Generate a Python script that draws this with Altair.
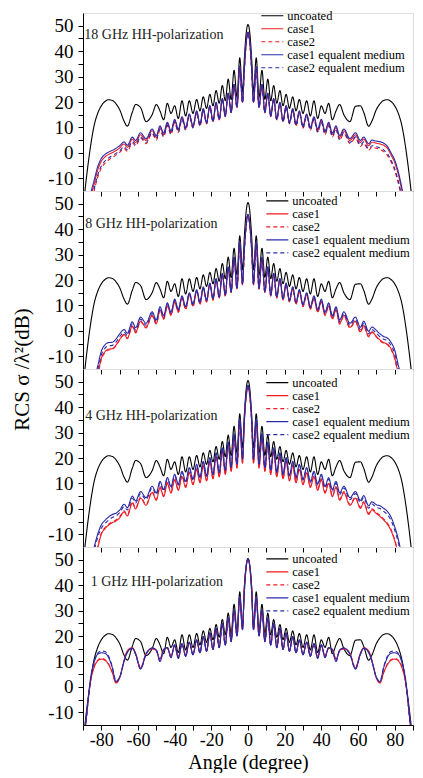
import altair as alt
import pandas as pd

# ---------------- data ----------------
ANGLE = [-90, -88, -86, -84, -82, -80, -78, -76, -74, -72, -70, -67.6, -65.8, -63.1, -61.3, -58.6,
         -55.6, -52.3, -50, -48, -46, -44, -42, -40, -38, -36, -34, -32, -30, -28, -26.2, -24.4,
         -22.6, -20.8, -19.1, -17.4, -15.7, -14.0, -12.4, -10.8, -9.2, -7.6, -6.0, -4.5, -3.0, -2.0, -1.0, 0,
         1.0, 2.0, 3.0, 4.5, 6.0, 7.6, 9.2, 10.8, 12.4, 14.0, 15.7, 17.4, 19.1, 20.8, 22.6, 24.4,
         26.2, 28, 30, 32, 34, 36, 38, 40, 42, 44, 46, 48, 50, 52.3, 55.6, 58.6,
         61.3, 63.1, 65.8, 67.6, 70, 72, 74, 76, 78, 80, 82, 84, 86, 88, 90]

UNCOATED = [-22, -9, 2, 10.5, 15.5, 18.5, 20.2, 20.9, 20.6, 19.3, 17.0, 12.5, 10.5, 16.0, 19.0, 17.8,
            12.3, 15.0, 19.0, 16.5, 13.0, 19.5, 15.5, 18.5, 13.5, 20.5, 14.5, 20.5, 15.5, 21.0, 16.5, 22.0,
            17.5, 23.0, 18.5, 24.5, 19.5, 26.5, 20.5, 29.0, 21.0, 32.5, 22.0, 37.4, 24.0, 37.0, 47.0, 50.5,
            47.0, 37.0, 24.0, 37.4, 22.0, 32.5, 21.0, 29.0, 20.5, 26.5, 19.5, 24.5, 18.5, 23.0, 17.5, 22.0,
            16.5, 21.0, 15.5, 20.5, 14.5, 20.5, 13.5, 18.5, 15.5, 19.5, 13.0, 16.5, 19.0, 15.0, 12.3, 18.3,
            18.5, 16.0, 10.5, 12.5, 17.0, 19.3, 20.6, 20.9, 20.2, 18.5, 15.5, 10.5, 2, -9, -22]

# 18 GHz
P18_CASE1 = [-34, -26, -18, -12.5, -6.8, -3.3, -1.6, -0.6, 0.1, 0.9, 1.9, 3.5, 2.2, 5.4, 4.1, 7.1,
             4.9, 8.7, 6.1, 10.0, 7.2, 11.5, 8.1, 12.7, 8.8, 13.8, 9.6, 14.9, 10.2, 16.2, 11.0, 17.1,
             11.7, 18.4, 12.4, 19.7, 13.1, 21.3, 14.4, 23.4, 15.9, 26.9, 17.9, 33.9, 19.9, 32.9, 43.3, 47.3,
             43.3, 32.9, 19.9, 33.9, 17.9, 26.9, 15.9, 23.4, 14.4, 21.3, 13.1, 19.7, 12.4, 18.4, 11.7, 17.1,
             11.0, 16.2, 10.2, 14.9, 9.6, 13.8, 8.8, 12.7, 8.1, 11.5, 7.2, 10.0, 6.1, 8.7, 4.9, 7.1,
             4.1, 5.4, 2.8, 4.2, 3.8, 3.5, 3.0, 1.8, -0.8, -3.8, -8.5, -15.0, -22, -29, -36]
P18_CASE2 = [-37, -29, -21, -15.2, -9.6, -6.0, -4.0, -2.8, -1.8, -0.9, 0.2, 1.8, 0.6, 3.9, 2.7, 5.8,
             3.6, 7.6, 5.0, 8.9, 6.2, 10.6, 7.2, 11.9, 8.0, 13.1, 8.9, 14.4, 9.7, 15.7, 10.5, 16.8,
             11.4, 18.1, 12.1, 19.4, 12.9, 21.0, 14.2, 23.2, 15.7, 26.7, 17.7, 33.7, 19.7, 32.7, 43.0, 47.0,
             43.0, 32.7, 19.7, 33.7, 17.7, 26.7, 15.7, 23.2, 14.2, 21.0, 12.9, 19.4, 12.1, 18.1, 11.4, 16.8,
             10.5, 15.7, 9.7, 14.4, 8.9, 13.1, 8.0, 11.9, 7.2, 10.6, 6.2, 8.9, 5.0, 7.6, 3.6, 5.8,
             2.5, 3.7, 1.0, 2.2, 1.8, 1.3, 0.5, -1.0, -3.5, -7.0, -12.0, -18.5, -25, -32, -39]
P18_EQ1 = [-32, -24, -16.5, -11.0, -5.5, -2.2, -0.6, 0.3, 1.0, 1.8, 2.8, 4.3, 3.0, 6.2, 4.9, 7.9,
           5.6, 9.4, 6.8, 10.6, 7.8, 12.0, 8.6, 13.2, 9.3, 14.2, 10.0, 15.3, 10.6, 16.5, 11.3, 17.4,
           12.0, 18.6, 12.6, 19.9, 13.3, 21.4, 14.5, 23.5, 16.0, 27.0, 18.0, 34.0, 20.0, 33.0, 43.5, 47.5,
           43.5, 33.0, 20.0, 34.0, 18.0, 27.0, 16.0, 23.5, 14.5, 21.4, 13.3, 19.9, 12.6, 18.6, 12.0, 17.4,
           11.3, 16.5, 10.6, 15.3, 10.0, 14.2, 9.3, 13.2, 8.6, 12.0, 7.8, 10.6, 6.8, 9.4, 5.6, 7.9,
           4.9, 6.2, 3.6, 5.0, 4.6, 4.4, 3.8, 2.6, 0.0, -2.8, -7.5, -14.0, -21, -28, -35]
P18_EQ2 = [-36, -28, -20, -14.5, -8.8, -5.2, -3.2, -2.0, -1.0, -0.2, 0.8, 2.4, 1.2, 4.5, 3.2, 6.3,
           4.1, 8.0, 5.4, 9.3, 6.6, 10.9, 7.5, 12.2, 8.3, 13.3, 9.1, 14.6, 9.9, 15.9, 10.7, 16.9,
           11.5, 18.2, 12.2, 19.5, 13.0, 21.1, 14.3, 23.3, 15.8, 26.8, 17.8, 33.8, 19.8, 32.8, 43.2, 47.2,
           43.2, 32.8, 19.8, 33.8, 17.8, 26.8, 15.8, 23.3, 14.3, 21.1, 13.0, 19.5, 12.2, 18.2, 11.5, 16.9,
           10.7, 15.9, 9.9, 14.6, 9.1, 13.3, 8.3, 12.2, 7.5, 10.9, 6.6, 9.3, 5.4, 8.0, 4.1, 6.3,
           3.0, 4.3, 1.6, 2.8, 2.4, 2.0, 1.2, -0.3, -2.8, -6.2, -11.2, -17.5, -24, -31, -38]

# 8 GHz
P8_CASE1 = [-44, -36, -29, -23, -17.5, -10.8, -8.2, -7.2, -7.0, -5.6, -3.4, -1.4, -2.8, 1.9, -0.5, 3.8,
            1.4, 6.1, 2.9, 8.3, 4.8, 9.9, 6.3, 11.5, 7.5, 12.9, 8.7, 14.3, 9.8, 15.6, 10.7, 16.8,
            11.5, 18.3, 12.2, 20.2, 13.0, 22.3, 13.8, 24.9, 15.1, 28.8, 16.5, 34.8, 18.2, 31.8, 41.3, 45.6,
            41.3, 31.8, 18.2, 34.8, 16.5, 28.8, 15.1, 24.9, 13.8, 22.3, 13.0, 20.2, 12.2, 18.3, 11.5, 16.8,
            10.7, 15.6, 9.8, 14.3, 8.7, 12.9, 7.5, 11.5, 6.3, 9.9, 4.8, 8.3, 2.9, 6.1, 1.4, 3.8,
            -0.3, 2.1, -2.1, -0.4, -2.2, -3.6, -4.6, -5.2, -7.0, -10.5, -17.0, -23, -29, -36, -44]
P8_CASE2 = [-45, -37, -30, -24, -18.0, -11.2, -8.6, -7.5, -7.3, -5.9, -3.6, -1.6, -3.1, 1.7, -0.8, 3.6,
            1.1, 5.9, 2.6, 8.1, 4.5, 9.7, 6.0, 11.3, 7.2, 12.7, 8.4, 14.1, 9.5, 15.5, 10.4, 16.7,
            11.3, 18.2, 12.0, 20.1, 12.8, 22.2, 13.6, 24.8, 15.0, 28.7, 16.4, 34.7, 18.1, 31.7, 41.2, 45.5,
            41.2, 31.7, 18.1, 34.7, 16.4, 28.7, 15.0, 24.8, 13.6, 22.2, 12.8, 20.1, 12.0, 18.2, 11.3, 16.7,
            10.4, 15.5, 9.5, 14.1, 8.4, 12.7, 7.2, 11.3, 6.0, 9.7, 4.5, 8.1, 2.6, 5.9, 1.1, 3.6,
            -0.6, 1.9, -2.4, -0.6, -2.4, -3.9, -4.9, -5.5, -7.3, -11.0, -17.5, -24, -30, -37, -45]
P8_EQ1 = [-40, -32, -25, -19.5, -14.0, -8.0, -5.5, -4.6, -4.5, -3.2, -1.2, 0.5, -0.9, 3.6, 1.2, 5.4,
          3.0, 7.5, 4.3, 9.5, 6.0, 11.0, 7.3, 12.5, 8.4, 13.8, 9.5, 15.0, 10.5, 16.2, 11.3, 17.3,
          12.0, 18.8, 12.7, 20.6, 13.4, 22.6, 14.1, 25.2, 15.4, 29.0, 16.8, 35.0, 18.5, 32.0, 41.5, 45.8,
          41.5, 32.0, 18.5, 35.0, 16.8, 29.0, 15.4, 25.2, 14.1, 22.6, 13.4, 20.6, 12.7, 18.8, 12.0, 17.3,
          11.3, 16.2, 10.5, 15.0, 9.5, 13.8, 8.4, 12.5, 7.3, 11.0, 6.0, 9.5, 4.3, 7.5, 3.0, 5.4,
          1.4, 3.8, -0.2, 1.5, 0.2, -1.2, -2.2, -2.8, -4.5, -7.5, -13.5, -19.5, -25, -32, -40]
P8_EQ2 = [-42, -34, -27, -21, -15.5, -9.4, -6.8, -5.9, -5.7, -4.4, -2.3, -0.5, -1.9, 2.7, 0.3, 4.6,
          2.2, 6.8, 3.6, 8.9, 5.4, 10.5, 6.8, 12.0, 8.0, 13.4, 9.1, 14.7, 10.2, 15.9, 11.0, 17.1,
          11.8, 18.6, 12.5, 20.5, 13.3, 22.5, 14.0, 25.1, 15.3, 28.9, 16.7, 34.9, 18.4, 31.9, 41.4, 45.7,
          41.4, 31.9, 18.4, 34.9, 16.7, 28.9, 15.3, 25.1, 14.0, 22.5, 13.3, 20.5, 12.5, 18.6, 11.8, 17.1,
          11.0, 15.9, 10.2, 14.7, 9.1, 13.4, 8.0, 12.0, 6.8, 10.5, 5.4, 8.9, 3.6, 6.8, 2.2, 4.6,
          0.5, 2.9, -1.2, 0.5, -0.9, -2.3, -3.3, -3.9, -5.7, -8.8, -15.0, -21, -27, -34, -42]

# 4 GHz
P4_CASE1 = [-44, -36, -29, -22, -15.5, -10.0, -7.8, -6.4, -5.4, -4.8, -3.5, -1.2, -2.8, 2.3, 0.0, 4.2,
            1.4, 6.4, 3.4, 8.4, 4.8, 10.0, 6.2, 11.4, 7.3, 12.7, 8.4, 14.2, 9.5, 15.6, 10.3, 17.0,
            11.0, 18.6, 11.8, 20.6, 12.6, 22.7, 13.5, 25.2, 14.7, 28.5, 16.0, 34.6, 18.0, 34.0, 44.0, 47.6,
            44.0, 34.0, 18.0, 34.6, 16.0, 28.5, 14.7, 25.2, 13.5, 22.7, 12.6, 20.6, 11.8, 18.6, 11.0, 17.0,
            10.3, 15.6, 9.5, 14.2, 8.4, 12.7, 7.3, 11.4, 6.2, 10.0, 4.8, 8.4, 3.4, 6.4, 1.4, 4.2,
            0.2, 2.5, -2.2, -0.4, -1.8, -3.0, -4.4, -6.0, -8.5, -12.5, -18, -25, -31, -37, -44]
P4_CASE2 = [-43, -35, -28, -21.5, -15.0, -9.6, -7.4, -6.0, -5.0, -4.4, -3.1, -0.8, -2.4, 2.7, 0.4, 4.6,
            1.8, 6.8, 3.8, 8.8, 5.2, 10.4, 6.6, 11.8, 7.7, 13.1, 8.8, 14.5, 9.8, 15.9, 10.6, 17.2,
            11.3, 18.8, 12.0, 20.8, 12.8, 22.9, 13.7, 25.4, 14.9, 28.7, 16.2, 34.8, 18.2, 34.2, 44.2, 47.8,
            44.2, 34.2, 18.2, 34.8, 16.2, 28.7, 14.9, 25.4, 13.7, 22.9, 12.8, 20.8, 12.0, 18.8, 11.3, 17.2,
            10.6, 15.9, 9.8, 14.5, 8.8, 13.1, 7.7, 11.8, 6.6, 10.4, 5.2, 8.8, 3.8, 6.8, 1.8, 4.6,
            0.6, 2.9, -1.8, 0.0, -1.4, -2.6, -4.0, -5.6, -8.1, -12.0, -17.5, -24, -30, -36, -43]
P4_EQ1 = [-38, -30, -23, -15.5, -10.0, -6.3, -4.5, -3.2, -2.2, -1.7, -0.5, 1.8, 0.5, 5.0, 3.1, 6.8,
          4.4, 8.9, 6.3, 10.8, 7.6, 12.3, 8.8, 13.6, 9.8, 14.8, 10.8, 16.2, 11.7, 17.5, 12.4, 18.7,
          13.0, 20.2, 13.7, 22.0, 14.4, 24.0, 15.2, 26.3, 16.3, 29.5, 17.6, 35.5, 19.5, 35.0, 45.0, 48.6,
          45.0, 35.0, 19.5, 35.5, 17.6, 29.5, 16.3, 26.3, 15.2, 24.0, 14.4, 22.0, 13.7, 20.2, 13.0, 18.7,
          12.4, 17.5, 11.7, 16.2, 10.8, 14.8, 9.8, 13.6, 8.8, 12.3, 7.6, 10.8, 6.3, 8.9, 4.4, 6.8,
          3.3, 5.2, 1.2, 2.8, 1.6, 1.2, 0.2, -1.0, -3.2, -7.0, -12.0, -19, -26, -32, -39]
P4_EQ2 = [-40, -32, -25, -17.0, -11.3, -7.6, -5.8, -4.4, -3.4, -2.8, -1.5, 0.9, -0.4, 4.2, 2.3, 6.0,
          3.6, 8.2, 5.6, 10.1, 7.0, 11.7, 8.2, 13.0, 9.3, 14.3, 10.3, 15.8, 11.3, 17.1, 12.0, 18.4,
          12.7, 19.9, 13.4, 21.8, 14.2, 23.8, 15.0, 26.2, 16.2, 29.4, 17.5, 35.4, 19.4, 34.9, 44.9, 48.5,
          44.9, 34.9, 19.4, 35.4, 17.5, 29.4, 16.2, 26.2, 15.0, 23.8, 14.2, 21.8, 13.4, 19.9, 12.7, 18.4,
          12.0, 17.1, 11.3, 15.8, 10.3, 14.3, 9.3, 13.0, 8.2, 11.7, 7.0, 10.1, 5.6, 8.2, 3.6, 6.0,
          2.5, 4.4, 0.3, 1.9, 0.6, 0.1, -1.0, -2.2, -4.5, -8.3, -13.3, -20, -27, -33, -40]

# 1 GHz
P1_CASE1 = [-25, -11, 1.5, 7.5, 10.2, 10.9, 10.4, 8.7, 5.5, 1.5, 3.5, 10.3, 14.2, 15.4, 13.2, 7.5,
            13.2, 15.0, 14.2, 11.0, 14.8, 15.3, 12.2, 16.2, 11.8, 16.8, 12.4, 17.4, 12.8, 18.4, 13.5, 19.7,
            14.1, 21.2, 14.8, 22.9, 15.5, 24.9, 16.5, 27.1, 17.9, 30.2, 20.1, 35.4, 22.6, 39.0, 47.5, 50.3,
            47.5, 39.0, 22.6, 35.4, 20.1, 30.2, 17.9, 27.1, 16.5, 24.9, 15.5, 22.9, 14.8, 21.2, 14.1, 19.7,
            13.5, 18.4, 12.8, 17.4, 12.4, 16.8, 11.8, 16.2, 12.2, 15.3, 14.8, 11.0, 14.2, 15.0, 13.2, 7.5,
            13.2, 15.4, 14.2, 10.3, 3.5, 1.5, 5.5, 8.7, 10.4, 10.9, 10.2, 7.5, 1.5, -11, -25]
P1_CASE2 = [-25, -11, 1.8, 7.9, 10.5, 11.2, 10.7, 9.0, 5.8, 1.7, 3.6, 10.3, 14.1, 15.3, 13.1, 7.4,
            13.1, 15.0, 14.1, 10.9, 14.8, 15.3, 12.1, 16.2, 11.7, 16.8, 12.4, 17.4, 12.8, 18.4, 13.5, 19.7,
            14.1, 21.2, 14.8, 22.9, 15.5, 24.9, 16.5, 27.1, 17.9, 30.2, 20.1, 35.4, 22.6, 39.0, 47.5, 50.3,
            47.5, 39.0, 22.6, 35.4, 20.1, 30.2, 17.9, 27.1, 16.5, 24.9, 15.5, 22.9, 14.8, 21.2, 14.1, 19.7,
            13.5, 18.4, 12.8, 17.4, 12.4, 16.8, 11.7, 16.2, 12.1, 15.3, 14.8, 10.9, 14.1, 15.0, 13.1, 7.4,
            13.1, 15.3, 14.1, 10.3, 3.6, 1.7, 5.8, 9.0, 10.7, 11.2, 10.5, 7.9, 1.8, -11, -25]
P1_EQ1 = [-25, -11, 2.5, 9.5, 12.8, 13.4, 13.2, 11.5, 7.5, 2.0, 3.8, 10.0, 13.6, 15.2, 12.8, 7.0,
          12.8, 15.3, 14.5, 10.0, 14.5, 15.5, 11.5, 16.5, 11.2, 17.0, 12.0, 17.6, 12.6, 18.5, 13.4, 19.8,
          14.0, 21.3, 14.7, 23.0, 15.4, 25.0, 16.4, 27.2, 17.8, 30.3, 20.0, 35.5, 22.5, 39.0, 47.5, 50.3,
          47.5, 39.0, 22.5, 35.5, 20.0, 30.3, 17.8, 27.2, 16.4, 25.0, 15.4, 23.0, 14.7, 21.3, 14.0, 19.8,
          13.4, 18.5, 12.6, 17.6, 12.0, 17.0, 11.2, 16.5, 11.5, 15.5, 14.5, 10.0, 14.5, 15.3, 12.8, 7.0,
          12.8, 15.2, 13.6, 10.0, 3.8, 2.0, 7.5, 11.5, 13.2, 13.4, 12.8, 9.5, 2.5, -11, -25]
P1_EQ2 = [-25, -11, 2.8, 9.9, 13.3, 14.1, 13.9, 12.0, 7.9, 2.2, 3.8, 10.0, 13.5, 15.1, 12.8, 7.0,
          12.8, 15.3, 14.5, 10.0, 14.5, 15.5, 11.5, 16.5, 11.2, 17.0, 12.0, 17.6, 12.6, 18.5, 13.4, 19.8,
          14.0, 21.3, 14.7, 23.0, 15.4, 25.0, 16.4, 27.2, 17.8, 30.3, 20.0, 35.5, 22.5, 39.0, 47.5, 50.3,
          47.5, 39.0, 22.5, 35.5, 20.0, 30.3, 17.8, 27.2, 16.4, 25.0, 15.4, 23.0, 14.7, 21.3, 14.0, 19.8,
          13.4, 18.5, 12.6, 17.6, 12.0, 17.0, 11.2, 16.5, 11.5, 15.5, 14.5, 10.0, 14.5, 15.3, 12.8, 7.0,
          12.8, 15.1, 13.5, 10.0, 3.8, 2.2, 7.9, 12.0, 13.9, 14.1, 13.3, 9.9, 2.8, -11, -25]

SERIES = ["uncoated", "case1", "case2", "case1 equalent medium", "case2 equalent medium"]
PANEL_SERIES = [
    [UNCOATED, P18_CASE1, P18_CASE2, P18_EQ1, P18_EQ2],
    [UNCOATED, P8_CASE1, P8_CASE2, P8_EQ1, P8_EQ2],
    [UNCOATED, P4_CASE1, P4_CASE2, P4_EQ1, P4_EQ2],
    [UNCOATED, P1_CASE1, P1_CASE2, P1_EQ1, P1_EQ2],
]
LABELS = ["18 GHz HH-polarization", "8 GHz HH-polarization", "4 GHz HH-polarization", "1 GHz HH-polarization"]
LABEL_X = [-89.3, -88.8, -88.8, -85.8]
LABEL_Y = [46.2, 42.1, 36.5, 41.4]

X_TICKS = list(range(-90, 91, 10))
Y_TICKS = list(range(-10, 51, 5))

# ---------------- styling ----------------
FONT = "Liberation Serif"
COLORS = ["#000000", "#ee1c24", "#ee1c24", "#2b2ba6", "#2b2ba6"]
DASHES = [[1, 0], [1, 0], [4, 3], [1, 0], [4, 3]]
W, H = 330, 178
LEGEND_X = [182.8, 187.8, 187.8, 187.8]
LEGEND_Y = [-3.75, 3.4, 7.1, 5.4]
LEGEND_SYMBOL = "M-2,0H2"   # a line twice as wide as the symbol box


def panel(i):
    rows = []
    for s, vals in zip(SERIES, PANEL_SERIES[i]):
        assert len(vals) == len(ANGLE), (i, s, len(vals))
        for a, v in zip(ANGLE, vals):
            rows.append({"angle": a, "value": v, "series": s})
    df = pd.DataFrame(rows)
    lab = pd.DataFrame({"angle": [LABEL_X[i]], "value": [LABEL_Y[i]], "text": [LABELS[i]]})

    xa = dict(values=X_TICKS, labelOverlap=False, tickSize=5, tickColor="black", domainColor="black",
              grid=False, labelFont=FONT, labelFontSize=18, labelColor="black", labelPadding=1,
              labelExpr="datum.value % 20 === 0 ? '' + datum.value : ''")
    if i == 3:
        xa.update(title="Angle (degree)", titleFont=FONT, titleFontSize=20, titleFontWeight="normal",
                  titleColor="black", titlePadding=3)
    else:
        xa.update(labels=False, title=None)
    ya = dict(values=Y_TICKS, labelOverlap=False, tickSize=5, tickColor="black", domainColor="black",
              grid=False, labelFont=FONT, labelFontSize=19, labelColor="black", labelPadding=5,
              labelExpr="datum.value % 10 === 0 ? '' + datum.value : ''")
    if i == 1:
        ya.update(title="RCS σ /λ²(dB)", titleFont=FONT, titleFontSize=21, titleFontWeight="normal",
                  titleColor="black", titleAngle=270, titleX=-61, titleY=H, titleAlign="center",
                  titleBaseline="middle")
    else:
        ya.update(title=None)

    x = alt.X("angle:Q", scale=alt.Scale(domain=[-90, 90], nice=False, zero=False), axis=alt.Axis(**xa))
    y = alt.Y("value:Q", scale=alt.Scale(domain=[-15, 55], nice=False, zero=False), axis=alt.Axis(**ya))
    leg = alt.Legend(orient="none", legendX=LEGEND_X[i], legendY=LEGEND_Y[i], title=None,
                     labelFont=FONT, labelFontSize=12.5, labelColor="black", symbolType=LEGEND_SYMBOL,
                     symbolSize=121, symbolStrokeWidth=1.2, labelOffset=8.5, rowPadding=0,
                     padding=0, labelLimit=0)
    lines = alt.Chart(df).mark_line(interpolate="monotone", strokeWidth=1.1, clip=True).encode(
        x=x, y=y,
        color=alt.Color("series:N", scale=alt.Scale(domain=SERIES, range=COLORS), legend=leg),
        strokeDash=alt.StrokeDash("series:N", scale=alt.Scale(domain=SERIES, range=DASHES), legend=leg),
    )
    text = alt.Chart(lab).mark_text(align="left", baseline="middle", font=FONT, fontSize=14,
                                    color="#222222").encode(x=x, y=y, text="text:N")
    return alt.layer(lines, text).properties(width=W, height=H)


chart = alt.vconcat(*[panel(i) for i in range(4)], spacing=0, bounds="flush").resolve_scale(
    color="independent", strokeDash="independent"
).properties(
    padding={"left": 2, "top": 0, "right": 0, "bottom": 0}
).configure_view(stroke="transparent").configure(background="white")

chart.save("out.html", embed_options={"renderer": "svg", "actions": False})
